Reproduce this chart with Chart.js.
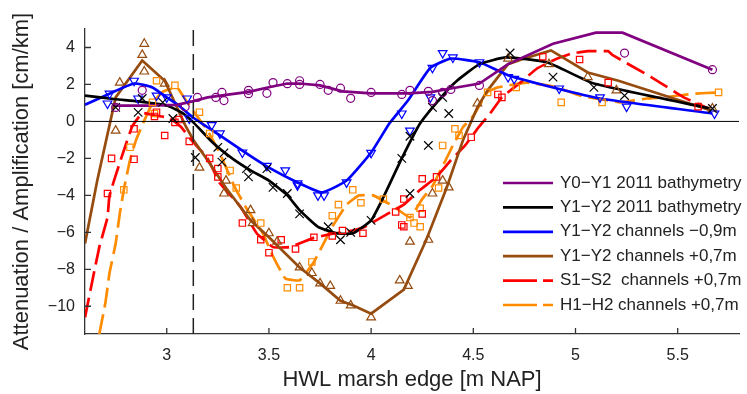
<!DOCTYPE html>
<html>
<head>
<meta charset="utf-8">
<script src="https://cdn.jsdelivr.net/npm/chart.js@4.4.0/dist/chart.umd.min.js"></script>
<style>
  html, body { margin: 0; padding: 0; background: #fff; }
  #wrap { width: 747px; height: 394px; }
</style>
</head>
<body>
<div id="wrap"><canvas id="chart" width="747" height="394"></canvas></div>
<script>
// axis ticks
const xTicks = [3, 3.5, 4, 4.5, 5, 5.5];
const yTicks = [-10, -8, -6, -4, -2, 0, 2, 4];
const marshEdgeX = 3.13;

const legendLabels = [
  "Y0\u2212Y1 2011 bathymetry",
  "Y1\u2212Y2 2011 bathymetry",
  "Y1\u2212Y2 channels \u22120,9m",
  "Y1\u2212Y2 channels +0,7m",
  "S1\u2212S2  channels +0,7m",
  "H1\u2212H2 channels +0,7m"
];

// Y0-Y1 2011 bathymetry (purple)
const y0y1LineX = [2.74, 2.9, 3.05, 3.13, 3.2, 3.3, 3.4, 3.5, 3.59, 3.65, 3.75, 3.86, 4.0, 4.18, 4.3, 4.39, 4.53, 4.67, 4.89, 5.1, 5.23, 5.67];
const y0y1LineY = [0.85, 0.85, 0.9, 1.1, 1.3, 1.45, 1.6, 1.85, 2.05, 2.05, 1.95, 1.63, 1.52, 1.52, 1.6, 1.78, 2.05, 3.1, 4.2, 4.8, 4.8, 2.8];
const y0y1PtsX = [2.75, 2.88, 3.09, 3.15, 3.24, 3.27, 3.28, 3.40, 3.40, 3.49, 3.52, 3.59, 3.65, 3.65, 3.75, 3.79, 3.85, 3.90, 4.0, 4.15, 4.19, 4.28, 4.30, 4.35, 4.39, 4.53, 5.24, 5.67];
const y0y1PtsY = [0.76, 1.68, 0.8, 1.3, 1.3, 1.57, 1.13, 1.68, 1.5, 1.52, 2.1, 2.04, 2.2, 2.0, 2.0, 1.68, 1.8, 1.25, 1.57, 1.46, 1.68, 1.63, 1.13, 1.57, 1.73, 1.95, 3.7, 2.8];

// Y1-Y2 2011 bathymetry (black)
const y1y2LineX = [2.6, 2.75, 2.86, 3.0, 3.07, 3.13, 3.23, 3.32, 3.41, 3.5, 3.59, 3.65, 3.74, 3.83, 3.91, 4.0, 4.06, 4.15, 4.24, 4.35, 4.42, 4.53, 4.66, 4.86, 5.09, 5.66];
const y1y2LineY = [1.4, 1.2, 1.08, 0.86, 0.5, -0.05, -1.2, -2.0, -2.65, -3.2, -4.0, -4.8, -5.7, -6.05, -6.05, -5.35, -4.1, -2.0, -0.1, 1.4, 2.2, 3.1, 3.46, 3.2, 2.05, 0.7];
const y1y2PtsX = [2.75, 2.86, 2.88, 2.98, 3.03, 3.14, 3.25, 3.27, 3.28, 3.39, 3.40, 3.49, 3.52, 3.59, 3.65, 3.79, 3.85, 3.90, 4.0, 4.15, 4.19, 4.19, 4.28, 4.30, 4.35, 4.38, 4.68, 4.89, 5.09, 5.24, 5.67];
const y1y2PtsY = [0.76, 0.49, 1.24, 1.03, 0.16, -1.95, -1.4, -2.2, -1.7, -2.55, -3.0, -2.55, -3.57, -3.9, -5.0, -5.7, -6.4, -6.0, -5.35, -2.0, -0.8, -3.9, -1.3, 0.76, 1.3, 0.43, 3.7, 2.4, 1.84, 1.4, 0.7];

// Y1-Y2 channels -0,9m (blue)
const chanLowLineX = [2.6, 2.72, 2.84, 2.93, 3.0, 3.06, 3.13, 3.26, 3.39, 3.5, 3.64, 3.76, 3.88, 4.0, 4.09, 4.18, 4.29, 4.39, 4.53, 4.67, 4.91, 5.12, 5.67];
const chanLowLineY = [0.9, 1.5, 2.05, 1.84, 1.3, 0.85, 0.2, -0.75, -1.73, -2.5, -3.3, -3.84, -3.2, -1.68, -0.1, 1.13, 2.9, 3.4, 3.2, 2.5, 1.78, 1.24, 0.43];
const chanLowPtsX = [2.71, 2.72, 2.84, 2.86, 2.95, 3.0, 3.10, 3.11, 3.22, 3.26, 3.37, 3.49, 3.58, 3.64, 3.64, 3.74, 3.77, 3.88, 4.0, 4.15, 4.19, 4.29, 4.30, 4.35, 4.40, 4.53, 4.67, 4.70, 4.92, 5.12, 5.25, 5.68];
const chanLowPtsY = [0.97, 1.5, 2.2, 1.24, 1.4, 1.3, 1.24, 0.16, -0.2, -0.65, -1.68, -2.4, -2.65, -3.46, -3.35, -4.0, -4.0, -3.3, -1.7, 0.43, -0.5, 1.3, 2.9, 3.7, 3.46, 3.2, 2.4, 2.3, 1.78, 1.3, 0.8, 0.43];

// Y1-Y2 channels +0,7m (brown)
const chanHighLineX = [2.6, 2.66, 2.75, 2.88, 2.99, 3.09, 3.13, 3.2, 3.29, 3.41, 3.5, 3.65, 3.75, 3.85, 3.91, 4.0, 4.16, 4.27, 4.37, 4.45, 4.52, 4.57, 4.67, 4.75, 4.88, 5.06, 5.21, 5.66];
const chanHighLineY = [-6.6, -3.2, 1.3, 3.3, 2.2, -0.2, -1.0, -2.1, -3.6, -5.35, -6.27, -7.9, -8.76, -9.7, -9.95, -10.4, -9.1, -6.4, -3.57, -1.0, 0.76, 1.68, 3.1, 3.4, 3.84, 2.65, 2.2, 0.6];
const chanHighPtsX = [2.75, 2.77, 2.88, 2.89, 2.89, 2.99, 3.16, 3.29, 3.28, 3.41, 3.42, 3.50, 3.54, 3.65, 3.71, 3.75, 3.80, 3.85, 3.90, 4.0, 4.14, 4.18, 4.19, 4.28, 4.30, 4.35, 4.38, 4.52, 4.67, 4.87, 5.06, 5.2, 5.67];
const chanHighPtsY = [-0.5, 2.1, 3.6, 4.2, 2.7, 2.05, -2.5, -3.2, -3.9, -4.8, -5.5, -6.05, -6.5, -7.9, -8.2, -8.76, -8.9, -9.7, -9.95, -10.6, -8.6, -8.9, -6.5, -6.4, -3.9, -3.2, -3.57, 0.97, 3.4, 3.1, 2.4, 1.68, 0.7];

// S1-S2 channels +0,7m (red, dashed)
const s1s2LineX = [2.6, 2.64, 2.67, 2.71, 2.72, 2.78, 2.83, 2.88, 2.95, 3.01, 3.07, 3.12, 3.2, 3.26, 3.36, 3.44, 3.52, 3.6, 3.72, 3.8, 3.91, 3.97, 4.08, 4.16, 4.24, 4.32, 4.39, 4.46, 4.52, 4.58, 4.64, 4.73, 4.81, 4.89, 4.98, 5.06, 5.16, 5.18, 5.37, 5.53, 5.65];
const s1s2LineY = [-10.6, -8.4, -6.8, -5.2, -4.0, -1.9, -0.3, 0.45, 0.3, 0.2, -0.3, -1.0, -2.0, -3.35, -4.6, -6.05, -6.8, -6.8, -6.3, -6.1, -5.9, -5.7, -5.0, -4.5, -3.7, -3.0, -2.1, -1.3, -0.4, 0.4, 1.3, 2.1, 2.85, 3.3, 3.67, 3.8, 3.8, 3.6, 2.4, 1.3, 0.7];
const s1s2PtsX = [2.71, 2.73, 2.84, 2.84, 2.94, 2.95, 2.99, 3.04, 3.06, 3.11, 3.21, 3.25, 3.25, 3.37, 3.46, 3.50, 3.56, 3.63, 3.72, 3.81, 3.86, 3.96, 4.12, 4.15, 4.16, 4.16, 4.25, 4.25, 4.32, 4.49, 4.62, 4.64, 4.84, 5.02, 5.16, 5.60];
const s1s2PtsY = [-3.9, -2.0, -2.05, -0.4, 0.27, 0.5, -0.76, -0.05, 0.1, -1.08, -2.0, -2.55, -3.0, -5.5, -6.4, -7.1, -6.4, -6.9, -6.27, -6.2, -5.9, -6.05, -4.9, -5.6, -4.2, -5.7, -3.1, -5.0, -3.0, -0.86, 1.46, 1.3, 3.5, 3.35, 2.1, 0.8];

// H1-H2 channels +0,7m (orange, dashed)
const h1h2LineX = [2.67, 2.70, 2.72, 2.75, 2.77, 2.79, 2.82, 2.85, 2.88, 2.93, 2.98, 3.05, 3.09, 3.14, 3.2, 3.26, 3.33, 3.39, 3.47, 3.52, 3.58, 3.65, 3.72, 3.81, 3.88, 3.94, 4.01, 4.11, 4.19, 4.25, 4.30, 4.36, 4.40, 4.45, 4.50, 4.57, 4.62, 4.76, 4.83, 4.91, 5.02, 5.16, 5.22, 5.35, 5.43, 5.58, 5.70];
const h1h2LineY = [-11.5, -9.8, -8.2, -6.6, -5.0, -3.7, -2.1, -1.0, -0.2, 1.0, 1.6, 1.84, 1.2, 0.4, -0.5, -1.73, -3.5, -4.7, -6.05, -7.3, -8.5, -8.6, -7.6, -5.7, -4.5, -4.0, -4.0, -4.6, -5.2, -4.2, -3.5, -2.2, -1.3, -0.3, 0.3, 1.6, 1.84, 2.1, 2.0, 1.84, 1.4, 1.13, 1.03, 1.24, 1.3, 1.5, 1.57];
const h1h2PtsX = [2.79, 2.82, 2.93, 2.94, 2.95, 3.04, 3.16, 3.21, 3.31, 3.34, 3.46, 3.59, 3.65, 3.71, 3.81, 3.84, 3.91, 3.95, 4.06, 4.19, 4.21, 4.24, 4.24, 4.33, 4.35, 4.41, 4.43, 4.57, 4.71, 4.93, 5.13, 5.70];
const h1h2PtsY = [-3.7, -1.4, 1.03, 0.43, 2.2, 1.95, 0.5, -0.65, -2.65, -3.6, -5.5, -9.0, -9.0, -7.6, -5.1, -4.5, -3.7, -4.4, -4.2, -5.2, -5.5, -4.7, -5.7, -3.6, -1.3, -0.4, -0.76, 1.57, 1.84, 1.03, 1.03, 1.57];

const pts = (xs, ys) => xs.map((x, i) => ({ x: x, y: ys[i] }));

const series = [
  { line: [y0y1LineX, y0y1LineY], marks: [y0y1PtsX, y0y1PtsY], color: "rgb(128,0,128)", mark: "circle", r: 4, rot: 0, dash: [], tension: 0 },
  { line: [y1y2LineX, y1y2LineY], marks: [y1y2PtsX, y1y2PtsY], color: "#000000", mark: "crossRot", r: 6, rot: 0, dash: [], tension: 0.15 },
  { line: [chanLowLineX, chanLowLineY], marks: [chanLowPtsX, chanLowPtsY], color: "#0000ff", mark: "triangle", r: 5, rot: 180, dash: [], tension: 0.15 },
  { line: [chanHighLineX, chanHighLineY], marks: [chanHighPtsX, chanHighPtsY], color: "rgb(150,75,15)", mark: "triangle", r: 5, rot: 0, dash: [], tension: 0 },
  { line: [s1s2LineX, s1s2LineY], marks: [s1s2PtsX, s1s2PtsY], color: "#ff0000", mark: "rect", r: 4.5, rot: 0, dash: [20, 7], tension: 0.1 },
  { line: [h1h2LineX, h1h2LineY], marks: [h1h2PtsX, h1h2PtsY], color: "rgb(255,140,0)", mark: "rect", r: 4.5, rot: 0, dash: [20, 7], tension: 0.1 }
];

const datasets = [
  { data: pts([2.6, 5.8], [0, 0]), showLine: true, borderColor: "#000", borderWidth: 1, pointRadius: 0 },
  { data: pts([marshEdgeX, marshEdgeX], [-11.5, 5]), showLine: true, borderColor: "#222", borderWidth: 1.5, borderDash: [16, 8], pointRadius: 0 }
];
series.forEach(s => {
  datasets.push({
    data: pts(s.marks[0], s.marks[1]), showLine: false,
    pointStyle: s.mark, pointRadius: s.r, pointRotation: s.rot,
    pointBorderColor: s.color, pointBackgroundColor: "rgba(255,255,255,0)", pointBorderWidth: 1.2
  });
});
series.forEach(s => {
  datasets.push({
    data: pts(s.line[0], s.line[1]), showLine: true, borderColor: s.color,
    borderWidth: 2.7, borderDash: s.dash, pointRadius: 0, tension: s.tension
  });
});

const legendDash = [[], [], [], [], [34, 6], [34, 6]];

const axesAndLegend = {
  id: "axesAndLegend",
  afterDatasetsDraw(chart) {
    const { ctx, chartArea: a, scales: { x, y } } = chart;
    ctx.save();
    ctx.strokeStyle = "#333";
    ctx.lineWidth = 1.3;
    ctx.beginPath();
    xTicks.forEach(v => {
      const px = x.getPixelForValue(v);
      ctx.moveTo(px, a.bottom);
      ctx.lineTo(px, a.bottom - 6);
    });
    yTicks.forEach(v => {
      const py = y.getPixelForValue(v);
      ctx.moveTo(a.left, py);
      ctx.lineTo(a.left + 6, py);
    });
    ctx.stroke();

    ctx.font = '17px "Liberation Sans", Arial, sans-serif';
    ctx.textBaseline = "middle";
    ctx.fillStyle = "#222";
    legendLabels.forEach((label, i) => {
      const ly = 183 + i * 24.4;
      ctx.strokeStyle = series[i].color;
      ctx.lineWidth = 2.7;
      ctx.setLineDash(legendDash[i]);
      ctx.beginPath();
      ctx.moveTo(503, ly);
      ctx.lineTo(553, ly);
      ctx.stroke();
      ctx.setLineDash([]);
      ctx.fillText(label, 560, ly);
    });
    ctx.restore();
  }
};

Chart.defaults.font.family = '"Liberation Sans", Arial, sans-serif';
Chart.defaults.color = "#222";

new Chart(document.getElementById("chart"), {
  type: "scatter",
  data: { datasets: datasets },
  options: {
    responsive: false,
    animation: false,
    layout: { padding: { top: 29, right: 8, left: 0, bottom: 0 } },
    plugins: { legend: { display: false }, tooltip: { enabled: false } },
    scales: {
      x: {
        type: "linear", min: 2.6, max: 5.8,
        grid: { display: false },
        border: { display: true, color: "#333", width: 1.3 },
        afterBuildTicks: s => { s.ticks = xTicks.map(v => ({ value: v })); },
        ticks: { font: { size: 16 }, padding: 4, callback: v => String(v) },
        title: { display: true, text: "HWL marsh edge [m NAP]", font: { size: 22 }, padding: { top: 0, bottom: 1 } },
        afterFit: s => { s.height = 60; }
      },
      y: {
        type: "linear", min: -11.5, max: 5,
        grid: { display: false },
        border: { display: true, color: "#333", width: 1.3 },
        afterBuildTicks: s => { s.ticks = yTicks.map(v => ({ value: v })); },
        ticks: { font: { size: 16 }, padding: 2, callback: v => (v < 0 ? "\u2212" + Math.abs(v) : String(v)) },
        title: { display: true, text: "Attenuation / Amplification [cm/km]", font: { size: 22 }, padding: { top: 9, bottom: 4 } },
        afterFit: s => { s.width = 85; }
      }
    }
  },
  plugins: [axesAndLegend]
});
</script>
</body>
</html>
